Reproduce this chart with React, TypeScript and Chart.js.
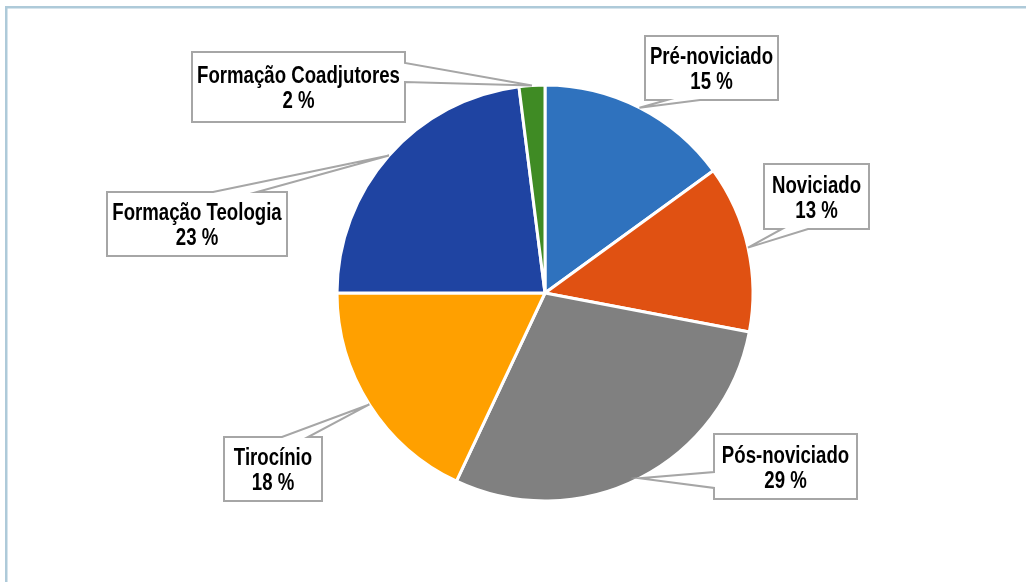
import React, { useEffect, useRef } from "react";
import { Chart, registerables } from "chart.js";

Chart.register(...registerables);

const categories = [
  "Pré-noviciado",
  "Noviciado",
  "Pós-noviciado",
  "Tirocínio",
  "Formação Teologia",
  "Formação Coadjutores",
];
const values = [15, 13, 29, 18, 23, 2];
const sliceColors = ["#2F72BE", "#E05112", "#808080", "#FFA000", "#1F44A2", "#3F8B24"];

// callout layout: box (x, y, w, h), side holding the wedge base, base offsets along that side
type Callout = { x: number; y: number; w: number; h: number; side: "top" | "bottom" | "left" | "right"; b1: number; b2: number };
const callouts: Callout[] = [
  { x: 645, y: 36, w: 133, h: 64, side: "bottom", b1: 22, b2: 55 },
  { x: 764, y: 164, w: 105, h: 65, side: "bottom", b1: 18, b2: 44 },
  { x: 714, y: 434, w: 143, h: 65, side: "left", b1: 38, b2: 54 },
  { x: 224, y: 437, w: 98, h: 64, side: "top", b1: 58, b2: 84 },
  { x: 107, y: 192, w: 180, h: 64, side: "top", b1: 106, b2: 150 },
  { x: 192, y: 52, w: 213, h: 70, side: "right", b1: 11, b2: 30 },
];

const FONT = 'bold 23px "Liberation Sans", Arial, sans-serif';
const NARROW = 0.81;

const calloutPlugin = {
  id: "callouts",
  beforeDraw(chart: any) {
    const ctx = chart.ctx;
    ctx.save();
    ctx.fillStyle = "#fff";
    ctx.fillRect(0, 0, chart.width, chart.height);
    ctx.fillStyle = "#AECAD9";
    ctx.fillRect(5, 6, 2.5, chart.height - 6);
    ctx.fillRect(5, 6, chart.width - 5, 2.5);
    ctx.restore();
  },
  afterDatasetsDraw(chart: any) {
    const ctx = chart.ctx;
    const meta = chart.getDatasetMeta(0);
    const total = values.reduce((a, b) => a + b, 0);
    meta.data.forEach((arc: any, i: number) => {
      const c = callouts[i];
      if (!c) return;
      const props = arc.getProps(["x", "y", "startAngle", "endAngle", "outerRadius"], true);
      const mid = (props.startAngle + props.endAngle) / 2;
      const tx = props.x + Math.cos(mid) * props.outerRadius;
      const ty = props.y + Math.sin(mid) * props.outerRadius;
      const { x, y, w, h, side, b1, b2 } = c;
      ctx.save();
      ctx.beginPath();
      ctx.moveTo(x, y);
      if (side === "top") {
        ctx.lineTo(x + b1, y);
        ctx.lineTo(tx, ty);
        ctx.lineTo(x + b2, y);
      }
      ctx.lineTo(x + w, y);
      if (side === "right") {
        ctx.lineTo(x + w, y + b1);
        ctx.lineTo(tx, ty);
        ctx.lineTo(x + w, y + b2);
      }
      ctx.lineTo(x + w, y + h);
      if (side === "bottom") {
        ctx.lineTo(x + b2, y + h);
        ctx.lineTo(tx, ty);
        ctx.lineTo(x + b1, y + h);
      }
      ctx.lineTo(x, y + h);
      if (side === "left") {
        ctx.lineTo(x, y + b2);
        ctx.lineTo(tx, ty);
        ctx.lineTo(x, y + b1);
      }
      ctx.closePath();
      ctx.fillStyle = "#ffffff";
      ctx.fill();
      ctx.lineWidth = 2;
      ctx.strokeStyle = "#A6A6A6";
      ctx.lineJoin = "miter";
      ctx.stroke();

      const cx = x + w / 2;
      const cy = y + h / 2;
      const pct = Math.round((values[i] / total) * 100);
      ctx.translate(cx, cy);
      ctx.scale(NARROW, 1);
      ctx.fillStyle = "#000000";
      ctx.font = FONT;
      ctx.textAlign = "center";
      ctx.textBaseline = "alphabetic";
      ctx.fillText(categories[i], 0, -4);
      ctx.fillText(pct + " %", 0, 21);
      ctx.restore();
    });
  },
};

export default function App() {
  const ref = useRef<HTMLCanvasElement | null>(null);
  useEffect(() => {
    if (!ref.current) return;
    const chart = new Chart(ref.current, {
      type: "pie",
      data: {
        labels: categories,
        datasets: [
          {
            data: values,
            backgroundColor: sliceColors,
            borderColor: "#ffffff",
            borderWidth: 3,
            radius: 208,
          } as any,
        ],
      },
      options: {
        responsive: false,
        animation: false,
        layout: { padding: { left: 64, right: 0, top: 4, bottom: 0 } },
        plugins: {
          legend: { display: false },
          tooltip: { enabled: false },
        },
      },
      plugins: [calloutPlugin],
    });
    return () => chart.destroy();
  }, []);
  return (
    <div style={{ position: "fixed", left: 0, top: 0, width: 1026, height: 582, background: "#fff" }}>
      <canvas ref={ref} width={1026} height={582} style={{ width: 1026, height: 582, display: "block" }} />
    </div>
  );
}
